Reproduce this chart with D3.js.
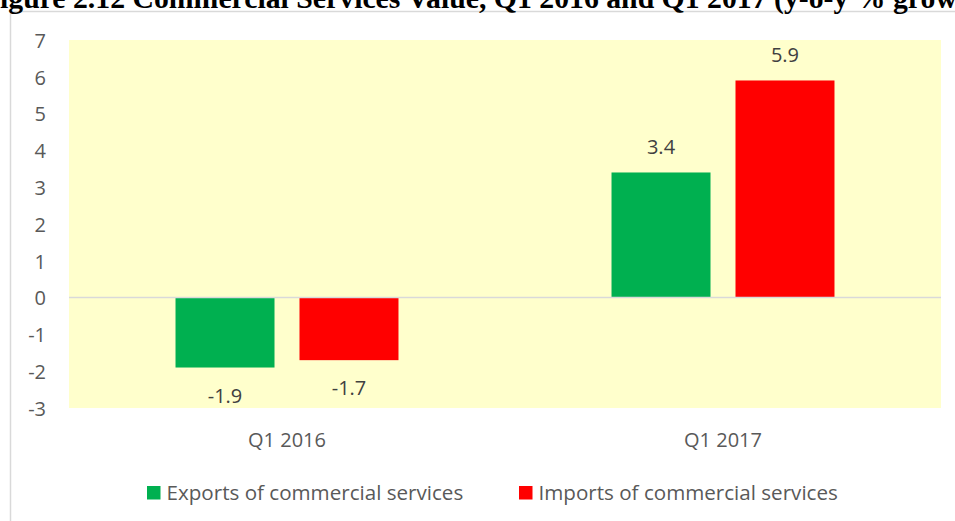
<!DOCTYPE html>
<html><head><meta charset="utf-8">
<script src="https://cdn.jsdelivr.net/npm/d3@7"></script>
<style>
html,body{margin:0;padding:0;background:#fff;overflow:hidden}
svg{display:block}
</style></head>
<body>
<svg id="chart" width="955" height="521"></svg>
<script>
const titleText = "Figure 2.12 Commercial Services Value, Q1 2016 and Q1 2017 (y-o-y % growth)";
const categories = ["Q1 2016", "Q1 2017"];
const seriesNames = ["Exports of commercial services", "Imports of commercial services"];
const exportsValues = [-1.9, 3.4];
const importsValues = [-1.7, 5.9];
const yTicks = [-3, -2, -1, 0, 1, 2, 3, 4, 5, 6, 7];
const seriesColors = ["#00B050", "#FF0000"];

const svg = d3.select("#chart");
const plot = {left: 69, right: 941, top: 40, bottom: 408};
const font = "'Open Sans', Lato, sans-serif";
const fsz = 20;
const legendSize = 20.6;
const hyph = s => String(s).replace("\u2212", "-");

// outer frame
svg.append("rect").attr("x", 10.5).attr("y", 11.5).attr("width", 1000).attr("height", 700)
  .attr("fill", "#fff").attr("stroke", "#d9d9d9").attr("stroke-width", 1.5);

// title (cropped at the top and on both sides, as in the source)
const title = svg.append("text").attr("font-family", "'Liberation Serif', 'Times New Roman', serif")
  .attr("font-weight", "bold").attr("font-size", 20).attr("y", 8).attr("x", 0).attr("fill", "#000")
  .text(titleText);
{
  const node = title.node();
  const wIdx = titleText.indexOf("grow") + 4;
  const len = node.getSubStringLength(1, wIdx - 1);
  const fs = 20 * 957 / len;
  title.attr("font-size", fs);
  const lead = node.getSubStringLength(0, 1);
  title.attr("x", -lead);
}

const y = d3.scaleLinear().domain([-3, 7]).range([plot.bottom, plot.top]);
const x0 = d3.scaleBand().domain(categories).range([plot.left, plot.right]).paddingInner(0).paddingOuter(0);
const bw0 = x0.bandwidth();
const x1 = d3.scaleBand().domain(seriesNames).range([bw0 * 0.2443, bw0 * 0.7557]).paddingInner(0.2016).paddingOuter(0);

// plot background
svg.append("rect").attr("x", plot.left).attr("y", plot.top)
  .attr("width", plot.right - plot.left).attr("height", plot.bottom - plot.top).attr("fill", "#FFFFCC");

// y axis labels
const yAxis = d3.axisLeft(y).tickValues(yTicks).tickSize(0).tickPadding(0).tickFormat(d => hyph(d3.format("d")(d)));
const yg = svg.append("g").attr("transform", `translate(46,0)`).call(yAxis);
yg.select(".domain").remove();
yg.selectAll("text").attr("font-family", font).attr("font-size", fsz).attr("fill", "#595959").attr("dy", "0.36em");

// x axis labels
const xAxis = d3.axisBottom(x0).tickSize(0).tickPadding(0);
const xg = svg.append("g").attr("transform", `translate(0,447)`).call(xAxis);
xg.select(".domain").remove();
xg.selectAll("text").attr("font-family", font).attr("font-size", fsz).attr("fill", "#595959").attr("dy", 0);

// data
const rows = categories.map((c, i) => ({cat: c, vals: [exportsValues[i], importsValues[i]]}));

const groups = svg.append("g").selectAll("g").data(rows).join("g")
  .attr("transform", d => `translate(${x0(d.cat)},0)`);

groups.selectAll("rect").data(d => d.vals.map((v, j) => ({name: seriesNames[j], v, j}))).join("rect")
  .attr("x", d => x1(d.name)).attr("width", x1.bandwidth())
  .attr("y", d => y(Math.max(0, d.v))).attr("height", d => Math.abs(y(d.v) - y(0)))
  .attr("fill", d => seriesColors[d.j]);

// zero line
svg.append("line").attr("x1", plot.left).attr("x2", plot.right).attr("y1", y(0)).attr("y2", y(0))
  .attr("stroke", "#d9d9d9").attr("stroke-width", 1.5);

// data labels
groups.selectAll("text.lbl").data(d => d.vals.map((v, j) => ({name: seriesNames[j], v, j}))).join("text")
  .attr("class", "lbl")
  .attr("x", d => x1(d.name) + x1.bandwidth() / 2)
  .attr("y", d => d.v >= 0 ? y(d.v) - 18 : y(d.v) + 35)
  .attr("text-anchor", "middle").attr("font-family", font).attr("font-size", fsz).attr("fill", "#404040")
  .text(d => hyph(d3.format(".1f")(d.v)));

// legend
const legendX = [147, 519];
const lg = svg.append("g").selectAll("g").data(seriesNames).join("g")
  .attr("transform", (d, i) => `translate(${legendX[i]},486)`);
lg.append("rect").attr("width", 13.5).attr("height", 13.5).attr("fill", (d, i) => seriesColors[i]);
lg.append("text").attr("x", 19.5).attr("y", 14).attr("font-family", font).attr("font-size", legendSize)
  .attr("fill", "#595959").text(d => d);
</script>
</body></html>
